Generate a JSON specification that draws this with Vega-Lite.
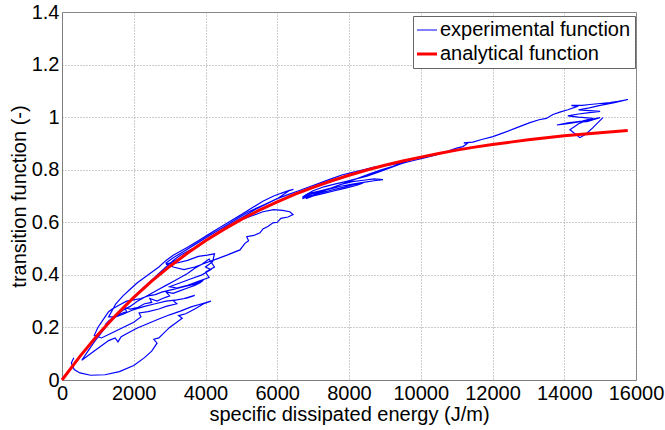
{
  "$schema": "https://vega.github.io/schema/vega-lite/v6.json",
  "width": 574,
  "height": 368,
  "autosize": {"type": "none"},
  "padding": {"left": 62, "top": 12, "right": 29, "bottom": 50},
  "background": "white",
  "config": {
    "font": "Liberation Sans",
    "view": {"stroke": "#7f7f7f", "strokeWidth": 1},
    "axis": {
      "domainColor": "#7f7f7f",
      "gridColor": "#9a9a9a",
      "gridDash": [1, 2],
      "gridWidth": 1,
      "ticks": false,
      "labelFlush": false,
      "labelOverlap": false,
      "labelFont": "Liberation Sans",
      "labelFontSize": 20,
      "labelColor": "black",
      "titleFont": "Liberation Sans",
      "titleFontSize": 20,
      "titleFontWeight": "normal",
      "titleColor": "black"
    },
    "legend": {
      "labelFont": "Liberation Sans",
      "labelFontSize": 20,
      "labelColor": "black",
      "labelLimit": 400
    }
  },
  "datasets": {
    "ana": [
      {"x": 0, "y": 0}, {"x": 500, "y": 0.09}, {"x": 1000, "y": 0.172}, {"x": 1500, "y": 0.2465},
      {"x": 2000, "y": 0.314}, {"x": 2500, "y": 0.376}, {"x": 3000, "y": 0.432}, {"x": 3500, "y": 0.483},
      {"x": 4000, "y": 0.53}, {"x": 4500, "y": 0.572}, {"x": 5000, "y": 0.611}, {"x": 5500, "y": 0.646},
      {"x": 6000, "y": 0.678}, {"x": 6500, "y": 0.707}, {"x": 7000, "y": 0.733}, {"x": 7500, "y": 0.757},
      {"x": 8000, "y": 0.779}, {"x": 8500, "y": 0.799}, {"x": 9000, "y": 0.817}, {"x": 9500, "y": 0.833},
      {"x": 10000, "y": 0.848}, {"x": 10500, "y": 0.862}, {"x": 11000, "y": 0.8745}, {"x": 11500, "y": 0.886},
      {"x": 12000, "y": 0.896}, {"x": 12500, "y": 0.905}, {"x": 13000, "y": 0.914}, {"x": 13500, "y": 0.922},
      {"x": 14000, "y": 0.929}, {"x": 14500, "y": 0.935}, {"x": 15000, "y": 0.941}, {"x": 15770, "y": 0.949}
    ],
    "exp": [
      {"i":1,"x":330,"y":0.085},{"i":2,"x":260,"y":0.065},{"i":3,"x":340,"y":0.04},{"i":4,"x":500,"y":0.027},
      {"i":5,"x":800,"y":0.018},{"i":6,"x":1200,"y":0.02},{"i":7,"x":1600,"y":0.032},{"i":8,"x":2000,"y":0.055},
      {"i":9,"x":2300,"y":0.085},{"i":10,"x":2500,"y":0.11},{"i":11,"x":2650,"y":0.14},{"i":12,"x":2560,"y":0.155},
      {"i":13,"x":2700,"y":0.16},{"i":14,"x":2850,"y":0.18},{"i":15,"x":3000,"y":0.2},{"i":16,"x":3200,"y":0.22},
      {"i":17,"x":3350,"y":0.235},{"i":18,"x":3250,"y":0.245},{"i":19,"x":3450,"y":0.252},{"i":20,"x":3700,"y":0.27},
      {"i":21,"x":3950,"y":0.29},{"i":22,"x":4150,"y":0.3},{"i":23,"x":3900,"y":0.29},{"i":24,"x":3600,"y":0.278},
      {"i":25,"x":3300,"y":0.262},{"i":26,"x":3000,"y":0.248},{"i":27,"x":2700,"y":0.232},{"i":28,"x":2400,"y":0.215},
      {"i":29,"x":2100,"y":0.198},{"i":30,"x":1850,"y":0.18},{"i":31,"x":1650,"y":0.165},{"i":32,"x":1560,"y":0.145},
      {"i":33,"x":1480,"y":0.16},{"i":34,"x":1300,"y":0.15},{"i":35,"x":1100,"y":0.13},{"i":36,"x":900,"y":0.11},
      {"i":37,"x":700,"y":0.09},{"i":38,"x":550,"y":0.075},{"i":39,"x":700,"y":0.105},{"i":40,"x":900,"y":0.145},
      {"i":41,"x":1100,"y":0.18},{"i":42,"x":1300,"y":0.215},{"i":43,"x":1500,"y":0.245},{"i":44,"x":1700,"y":0.275},
      {"i":45,"x":1900,"y":0.3},{"i":46,"x":2100,"y":0.33},{"i":47,"x":2300,"y":0.355},{"i":48,"x":2500,"y":0.38},
      {"i":49,"x":2700,"y":0.405},{"i":50,"x":2900,"y":0.43},{"i":51,"x":3100,"y":0.455},{"i":52,"x":3300,"y":0.475},
      {"i":53,"x":3500,"y":0.49},{"i":54,"x":3650,"y":0.5},{"i":55,"x":3400,"y":0.47},{"i":56,"x":3100,"y":0.45},
      {"i":57,"x":2900,"y":0.44},{"i":58,"x":3200,"y":0.445},{"i":59,"x":3500,"y":0.455},{"i":60,"x":3800,"y":0.47},
      {"i":61,"x":4050,"y":0.475},{"i":62,"x":4250,"y":0.48},
      {"i":62.01,"x":4200,"y":0.45},{"i":62.02,"x":4000,"y":0.43},{"i":62.03,"x":4150,"y":0.42},{"i":62.04,"x":3900,"y":0.4},
      {"i":62.05,"x":3600,"y":0.385},{"i":62.06,"x":3300,"y":0.37},{"i":62.07,"x":3000,"y":0.355},{"i":62.08,"x":3200,"y":0.35},
      {"i":62.09,"x":3500,"y":0.36},{"i":62.10,"x":3800,"y":0.375},{"i":62.11,"x":4100,"y":0.39},{"i":62.12,"x":4000,"y":0.41},
      {"i":62.13,"x":4250,"y":0.43},
      {"i":63,"x":4100,"y":0.46},{"i":64,"x":3900,"y":0.44},
      {"i":65,"x":3700,"y":0.425},{"i":66,"x":3500,"y":0.405},{"i":67,"x":3300,"y":0.39},{"i":68,"x":3100,"y":0.375},
      {"i":69,"x":2900,"y":0.36},{"i":70,"x":2700,"y":0.345},{"i":71,"x":2500,"y":0.33},{"i":72,"x":2300,"y":0.315},
      {"i":73,"x":2100,"y":0.3},{"i":74,"x":1900,"y":0.28},{"i":75,"x":1700,"y":0.265},{"i":76,"x":1500,"y":0.245},
      {"i":77,"x":1300,"y":0.225},{"i":78,"x":1200,"y":0.21},{"i":79,"x":1400,"y":0.23},{"i":80,"x":1600,"y":0.25},
      {"i":81,"x":1800,"y":0.26},{"i":82,"x":1750,"y":0.275},{"i":83,"x":1900,"y":0.27},{"i":84,"x":2100,"y":0.275},
      {"i":85,"x":2300,"y":0.29},{"i":86,"x":2500,"y":0.295},{"i":87,"x":2450,"y":0.31},{"i":88,"x":2650,"y":0.3},
      {"i":89,"x":2800,"y":0.31},{"i":90,"x":3000,"y":0.32},{"i":91,"x":2900,"y":0.335},{"i":92,"x":3100,"y":0.33},
      {"i":93,"x":3300,"y":0.34},{"i":94,"x":3500,"y":0.35},{"i":95,"x":3700,"y":0.36},{"i":96,"x":3850,"y":0.37},
      {"i":97,"x":3950,"y":0.38},{"i":98,"x":3700,"y":0.365},{"i":99,"x":3400,"y":0.355},{"i":100,"x":3100,"y":0.345},
      {"i":101,"x":2800,"y":0.335},{"i":102,"x":2600,"y":0.325},{"i":103,"x":2400,"y":0.32},{"i":104,"x":2200,"y":0.31},
      {"i":105,"x":2000,"y":0.305},{"i":106,"x":1800,"y":0.3},{"i":107,"x":1600,"y":0.285},{"i":108,"x":1400,"y":0.27},
      {"i":109,"x":1300,"y":0.26},
      {"i":109.01,"x":1200,"y":0.24},{"i":109.02,"x":1000,"y":0.2},{"i":109.03,"x":900,"y":0.17},{"i":109.04,"x":1100,"y":0.16},
      {"i":109.05,"x":1400,"y":0.18},{"i":109.06,"x":1700,"y":0.2},{"i":109.07,"x":2000,"y":0.22},{"i":109.08,"x":2200,"y":0.24},
      {"i":109.09,"x":2150,"y":0.255},{"i":109.10,"x":2400,"y":0.26},{"i":109.11,"x":2700,"y":0.27},{"i":109.12,"x":2900,"y":0.28},
      {"i":109.13,"x":3200,"y":0.29},{"i":109.14,"x":3100,"y":0.302},{"i":109.15,"x":3400,"y":0.31},{"i":109.16,"x":3700,"y":0.322},
      {"i":109.17,"x":3500,"y":0.312},{"i":109.18,"x":3200,"y":0.305},{"i":109.19,"x":2900,"y":0.3},{"i":109.20,"x":2600,"y":0.29},
      {"i":109.21,"x":2300,"y":0.28},{"i":109.22,"x":2000,"y":0.268},{"i":109.23,"x":1700,"y":0.25},{"i":109.24,"x":1500,"y":0.24},
      {"i":109.25,"x":1300,"y":0.24},
      {"i":110,"x":1500,"y":0.29},{"i":111,"x":1700,"y":0.32},{"i":112,"x":1900,"y":0.345},
      {"i":113,"x":2100,"y":0.37},{"i":114,"x":2300,"y":0.39},{"i":115,"x":2500,"y":0.41},{"i":116,"x":2700,"y":0.43},
      {"i":117,"x":2900,"y":0.455},{"i":118,"x":3100,"y":0.475},{"i":119,"x":3300,"y":0.49},{"i":120,"x":3500,"y":0.505},
      {"i":121,"x":3800,"y":0.53},{"i":122,"x":4100,"y":0.555},{"i":123,"x":4400,"y":0.58},{"i":124,"x":4700,"y":0.605},
      {"i":125,"x":5000,"y":0.63},{"i":126,"x":5300,"y":0.655},{"i":127,"x":5600,"y":0.68},{"i":128,"x":5900,"y":0.7},
      {"i":129,"x":6200,"y":0.715},{"i":130,"x":6450,"y":0.725},{"i":131,"x":6300,"y":0.72},{"i":132,"x":6100,"y":0.71},
      {"i":133,"x":6350,"y":0.722},{"i":134,"x":6000,"y":0.69},{"i":135,"x":5600,"y":0.665},{"i":136,"x":5200,"y":0.64},
      {"i":137,"x":4900,"y":0.615},{"i":138,"x":4600,"y":0.59},{"i":139,"x":4300,"y":0.565},{"i":140,"x":4000,"y":0.54},
      {"i":141,"x":3700,"y":0.515},{"i":142,"x":3400,"y":0.49},{"i":143,"x":3100,"y":0.465},{"i":144,"x":2900,"y":0.445},
      {"i":145,"x":3100,"y":0.43},{"i":146,"x":3400,"y":0.42},{"i":147,"x":3700,"y":0.43},{"i":148,"x":4000,"y":0.445},
      {"i":149,"x":4300,"y":0.46},{"i":150,"x":4600,"y":0.475},{"i":151,"x":4960,"y":0.495},{"i":152,"x":5100,"y":0.52},
      {"i":153,"x":5200,"y":0.53},{"i":154,"x":5150,"y":0.545},{"i":155,"x":5350,"y":0.55},{"i":156,"x":5520,"y":0.56},
      {"i":157,"x":5600,"y":0.575},{"i":158,"x":5750,"y":0.585},{"i":159,"x":5880,"y":0.598},{"i":160,"x":6000,"y":0.6},
      {"i":161,"x":6100,"y":0.615},{"i":162,"x":6300,"y":0.62},{"i":163,"x":6440,"y":0.629},{"i":164,"x":6350,"y":0.64},
      {"i":165,"x":6150,"y":0.645},{"i":166,"x":5900,"y":0.648},{"i":167,"x":5600,"y":0.64},{"i":168,"x":5300,"y":0.625},
      {"i":169,"x":5000,"y":0.61},{"i":170,"x":4700,"y":0.59},{"i":171,"x":4500,"y":0.575},{"i":172,"x":4800,"y":0.6},
      {"i":173,"x":5100,"y":0.625},{"i":174,"x":5400,"y":0.65},{"i":175,"x":5700,"y":0.67},{"i":176,"x":6000,"y":0.69},
      {"i":177,"x":6300,"y":0.705},{"i":178,"x":6600,"y":0.72},{"i":179,"x":6900,"y":0.735},{"i":180,"x":7200,"y":0.75},
      {"i":181,"x":7500,"y":0.765},{"i":182,"x":7800,"y":0.78},{"i":183,"x":8100,"y":0.79},{"i":184,"x":8400,"y":0.8},
      {"i":185,"x":8700,"y":0.81},{"i":186,"x":9000,"y":0.815},{"i":187,"x":9300,"y":0.822},{"i":188,"x":9615,"y":0.83},
      {"i":189,"x":9400,"y":0.82},{"i":190,"x":9100,"y":0.805},{"i":191,"x":8800,"y":0.79},{"i":192,"x":8500,"y":0.775},
      {"i":193,"x":8200,"y":0.765},{"i":194,"x":7900,"y":0.755},{"i":195,"x":7600,"y":0.745},{"i":196,"x":7300,"y":0.735},
      {"i":197,"x":7000,"y":0.72},{"i":198,"x":6800,"y":0.705},{"i":199,"x":6700,"y":0.695},{"i":200,"x":6900,"y":0.71},
      {"i":201,"x":7200,"y":0.72},{"i":202,"x":7500,"y":0.73},{"i":203,"x":7800,"y":0.745},{"i":204,"x":8100,"y":0.755},
      {"i":205,"x":8400,"y":0.76},{"i":206,"x":8700,"y":0.765},{"i":207,"x":8946,"y":0.762},{"i":208,"x":8700,"y":0.758},
      {"i":209,"x":8400,"y":0.752},{"i":210,"x":8100,"y":0.745},{"i":211,"x":7800,"y":0.738},{"i":212,"x":7500,"y":0.728},
      {"i":213,"x":7200,"y":0.718},{"i":214,"x":6900,"y":0.705},{"i":215,"x":6700,"y":0.69},{"i":216,"x":6900,"y":0.7},
      {"i":217,"x":7200,"y":0.712},{"i":218,"x":7500,"y":0.722},{"i":219,"x":7800,"y":0.732},{"i":220,"x":8100,"y":0.742},
      {"i":221,"x":8400,"y":0.75},{"i":222,"x":8200,"y":0.74},{"i":223,"x":7900,"y":0.73},{"i":224,"x":7600,"y":0.72},
      {"i":225,"x":7300,"y":0.71},{"i":226,"x":7000,"y":0.7},{"i":227,"x":6800,"y":0.69},{"i":228,"x":7100,"y":0.71},
      {"i":229,"x":7400,"y":0.725},{"i":230,"x":7700,"y":0.74},{"i":231,"x":8000,"y":0.755},{"i":232,"x":8300,"y":0.77},
      {"i":233,"x":8600,"y":0.785},{"i":234,"x":8900,"y":0.8},{"i":235,"x":9200,"y":0.812},{"i":236,"x":9500,"y":0.825},
      {"i":237,"x":9800,"y":0.835},{"i":238,"x":10100,"y":0.845},{"i":239,"x":10400,"y":0.855},{"i":240,"x":10700,"y":0.868},
      {"i":241,"x":11000,"y":0.882},{"i":242,"x":11176,"y":0.888},{"i":243,"x":11300,"y":0.9},{"i":244,"x":11200,"y":0.902},
      {"i":245,"x":11450,"y":0.905},{"i":246,"x":11700,"y":0.915},{"i":247,"x":12012,"y":0.926},{"i":248,"x":12300,"y":0.94},
      {"i":249,"x":12680,"y":0.96},{"i":250,"x":13043,"y":0.979},{"i":251,"x":13300,"y":0.99},{"i":252,"x":13500,"y":0.995},
      {"i":253,"x":13684,"y":1.01},{"i":254,"x":13900,"y":1.02},{"i":255,"x":14100,"y":1.028},{"i":256,"x":14353,"y":1.04},
      {"i":257,"x":14200,"y":1.045},{"i":258,"x":14500,"y":1.045},{"i":259,"x":14716,"y":1.048},{"i":260,"x":15000,"y":1.052},
      {"i":261,"x":15273,"y":1.055},{"i":262,"x":15500,"y":1.06},{"i":263,"x":15774,"y":1.067},{"i":264,"x":15400,"y":1.055},
      {"i":265,"x":15000,"y":1.045},{"i":266,"x":14700,"y":1.035},{"i":267,"x":14400,"y":1.028},{"i":268,"x":14700,"y":1.025},
      {"i":269,"x":15000,"y":1.022},{"i":270,"x":14700,"y":1.017},{"i":271,"x":14400,"y":1.012},{"i":272,"x":14100,"y":1.005},
      {"i":273,"x":14400,"y":1.0},{"i":274,"x":14800,"y":0.995},{"i":275,"x":14500,"y":0.985},{"i":276,"x":14100,"y":0.978},
      {"i":277,"x":13795,"y":0.97},{"i":278,"x":14100,"y":0.975},{"i":279,"x":14400,"y":0.982},{"i":280,"x":14632,"y":0.983},
      {"i":281,"x":14995,"y":0.998},{"i":282,"x":14700,"y":0.99},{"i":283,"x":14400,"y":0.975},{"i":284,"x":14158,"y":0.952},
      {"i":285,"x":14437,"y":0.922},{"i":286,"x":14600,"y":0.935},{"i":287,"x":14800,"y":0.96},{"i":288,"x":15078,"y":0.998}
    ]
  },
  "encoding": {
    "x": {
      "field": "x", "type": "quantitative",
      "scale": {"domain": [0, 16000], "nice": false, "zero": false},
      "axis": {
        "values": [0, 2000, 4000, 6000, 8000, 10000, 12000, 14000, 16000],
        "format": "d",
        "labelPadding": 3,
        "title": "specific dissipated energy (J/m)",
        "titleX": 287, "titleY": 34, "titleBaseline": "middle", "titleAnchor": null
      }
    },
    "y": {
      "field": "y", "type": "quantitative",
      "scale": {"domain": [0, 1.4], "nice": false, "zero": false},
      "axis": {
        "values": [0, 0.2, 0.4, 0.6, 0.8, 1, 1.2, 1.4],
        "format": "~g",
        "labelPadding": 3,
        "title": "transition function (-)",
        "titleX": -43, "titleY": 184, "titleBaseline": "middle", "titleAnchor": null
      }
    },
    "color": {
      "field": "s", "type": "nominal",
      "scale": {"domain": ["experimental function", "analytical function"], "range": ["#0000ff", "#ff0000"]},
      "legend": {
        "title": null,
        "orient": "none",
        "legendX": 351,
        "legendY": 4,
        "symbolType": "stroke",
        "symbolSize": 400,
        "symbolStrokeWidth": 1,
        "labelFontSize": 20,
        "labelLimit": 400,
        "labelOffset": 3,
        "padding": 4,
        "rowPadding": 4,
        "strokeColor": "#666666",
        "fillColor": "white",
        "encode": {
          "symbols": {"update": {"strokeWidth": {"signal": "datum.value === 'analytical function' ? 3 : 1"}}}
        }
      }
    }
  },
  "layer": [
    {
      "data": {"name": "exp"},
      "transform": [{"calculate": "'experimental function'", "as": "s"}],
      "mark": {"type": "line", "strokeWidth": 1.2, "interpolate": "linear"},
      "encoding": {"order": {"field": "i", "type": "quantitative"}}
    },
    {
      "data": {"name": "ana"},
      "transform": [{"calculate": "'analytical function'", "as": "s"}],
      "mark": {"type": "line", "strokeWidth": 3},
      "encoding": {}
    }
  ]
}
